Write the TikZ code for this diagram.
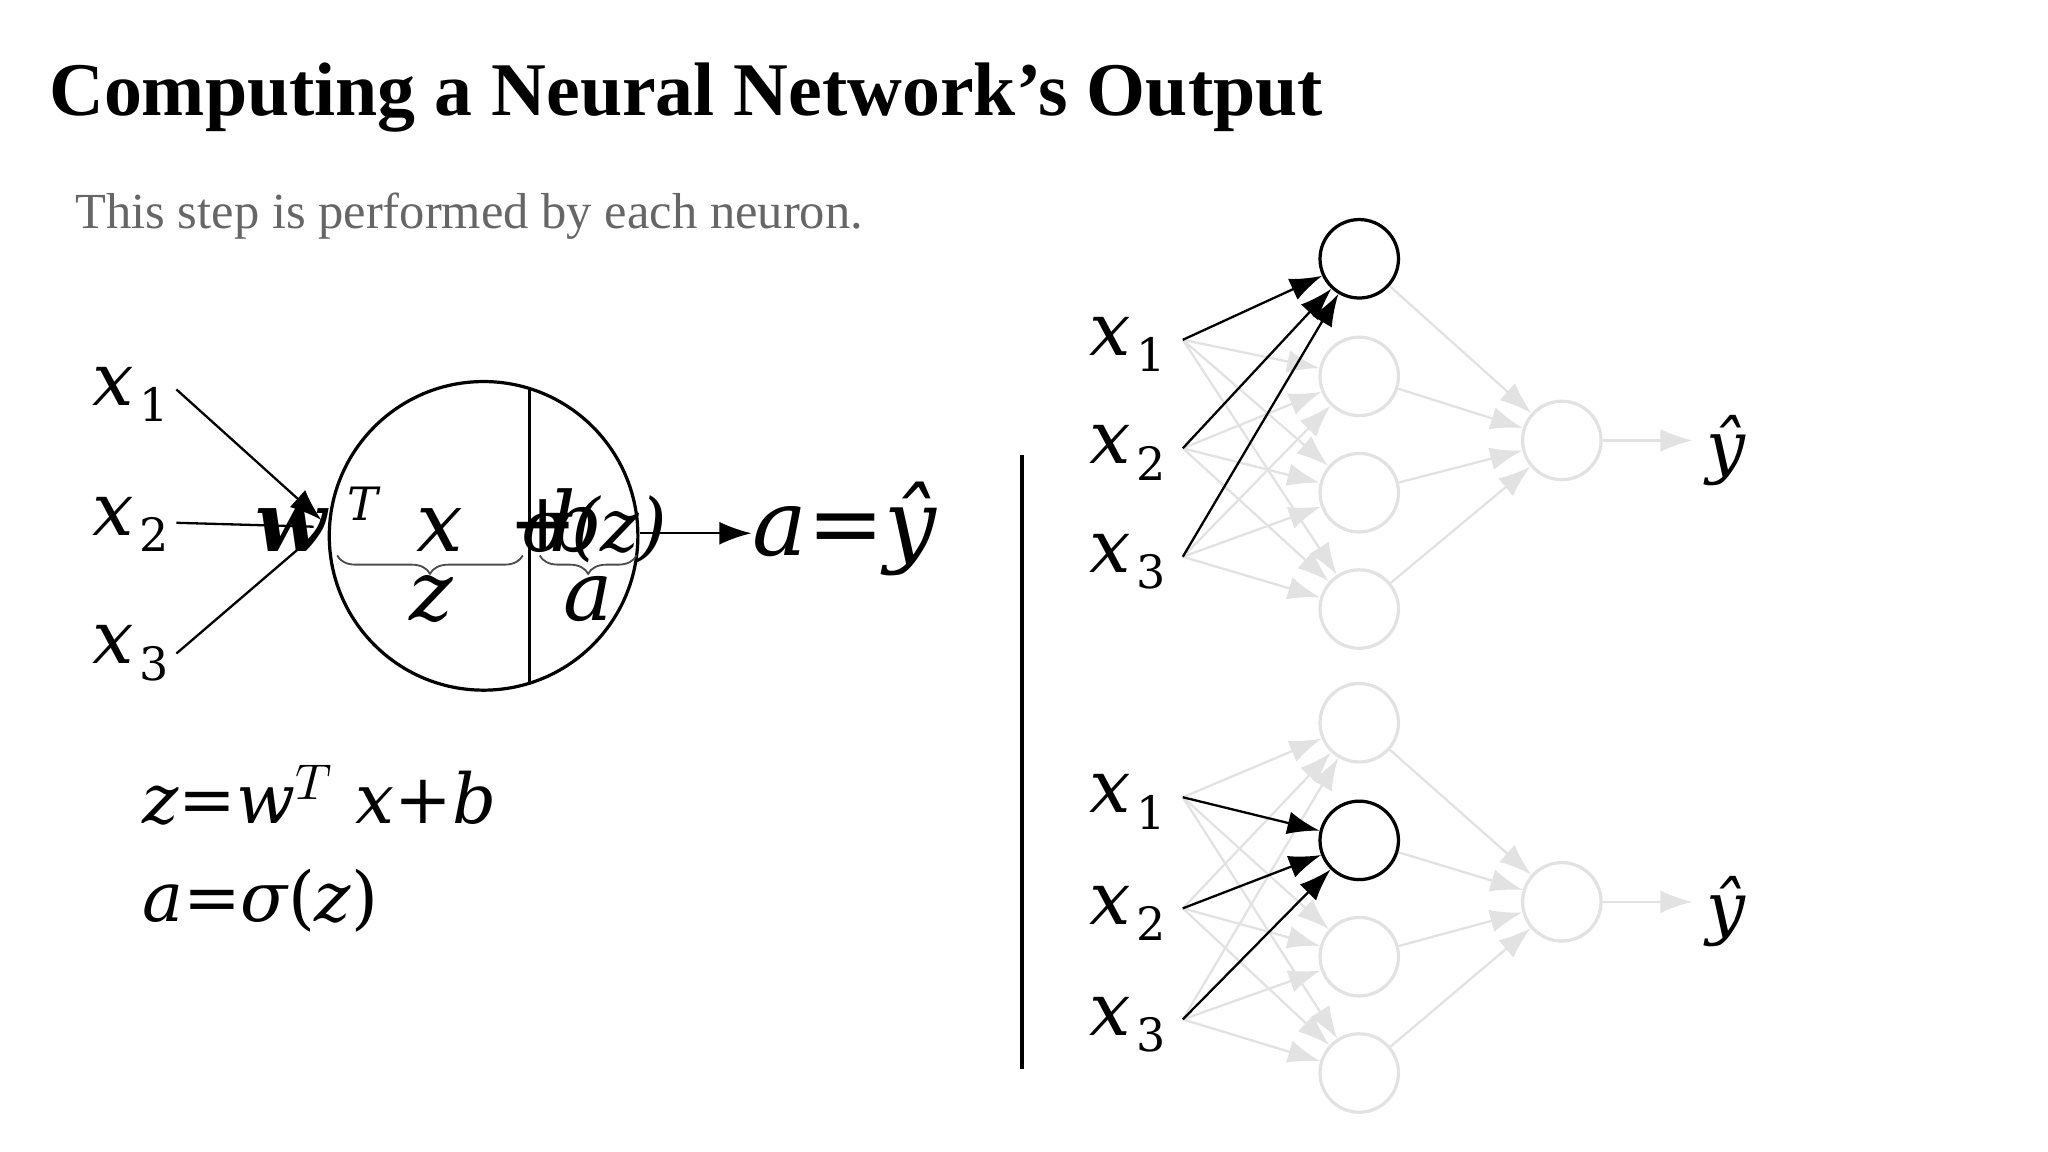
\documentclass[tikz,border=0pt]{standalone}
\usepackage{fontspec}
\setmainfont{Liberation Serif}
\newfontfamily\mth{DejaVu Serif}
\usetikzlibrary{arrows.meta,decorations.pathreplacing}
\definecolor{lg}{HTML}{E2E2E2}
\begin{document}
\begin{tikzpicture}[x=0.01cm,y=-0.01cm,
  neu/.style={circle,draw=#1,minimum size=0.6cm,inner sep=0pt,line width=0.7pt},
  neu/.default=lg,
  xl/.style={anchor=base west,inner sep=0pt,font=\mth\fontsize{16}{16}\selectfont},
  gl/.style={draw=lg,line width=0.5pt,-{Latex[length=7pt,width=5pt]}},
  bl/.style={draw=black,line width=0.5pt,-{Latex[length=7pt,width=5pt]}},
  yh/.style={anchor=base west,inner sep=0pt,font=\mth\itshape\fontsize{15}{15}\selectfont}]
\useasboundingbox (0,0) rectangle (1567,881.4);
\node[anchor=base west,inner sep=0pt,font=\bfseries\fontsize{16.5}{16.5}\selectfont] (title) at (37,88) {Computing a Neural Network’s Output};
\node[anchor=base west,inner sep=0pt,text=black!60,font=\fontsize{11}{11}\selectfont] (sub) at (57,175) {This step is performed by each neuron.};
% left neuron
\newcommand{\xlab}[1]{{\itshape x}\hspace{0.08em}{\fontsize{10}{10}\selectfont\raisebox{-0.35em}{#1}}}
\node[xl] (lx1) at (70,310) {\xlab{1}};
\node[xl] (lx2) at (70,410) {\xlab{2}};
\node[xl] (lx3) at (70,508) {\xlab{3}};
\node[circle,draw,line width=0.7pt,minimum size=2.36cm,inner sep=0pt] (big) at (370,410) {};
\draw[line width=0.7pt] (405,297) -- (405,523);
\coordinate (tip) at (246,398);
\draw[bl] (135,298) -- (tip);
\draw[line width=0.5pt] (135,400) -- (240,403);
\draw[line width=0.5pt] (135,500) -- (240,410);
\node[anchor=base west,inner sep=0pt,font=\mth\itshape\bfseries\fontsize{18}{18}\selectfont] (w) at (195,422) {w};
\node[anchor=base west,inner sep=0pt,font=\mth\itshape\fontsize{10}{10}\selectfont] (T) at (265,398) {T};
\node[anchor=base west,inner sep=0pt,font=\mth\itshape\fontsize{18}{18}\selectfont] (xx) at (318,422) {x};
\node[anchor=base west,inner sep=0pt,font=\mth\fontsize{18}{18}\selectfont] (pl) at (388,422) {+};
\node[anchor=base west,inner sep=0pt,font=\mth\itshape\fontsize{18}{18}\selectfont] (bb) at (420,422) {b};
\node[anchor=base west,inner sep=0pt,font=\mth\itshape\fontsize{16}{16}\selectfont] (sg) at (398,422) {σ(z)};
\draw[decorate,decoration={brace,mirror,amplitude=4pt},draw=black!70,line width=0.4pt] (258,425) -- (400,425);
\draw[decorate,decoration={brace,mirror,amplitude=4pt},draw=black!70,line width=0.4pt] (413,425) -- (487,425);
\node[anchor=base,inner sep=0pt,font=\mth\itshape\fontsize{18}{18}\selectfont] (zl) at (330,475) {z};
\node[anchor=base,inner sep=0pt,font=\mth\itshape\fontsize{18}{18}\selectfont] (al) at (450,475) {a};
\node[anchor=base west,inner sep=0pt,font=\mth\itshape\fontsize{20}{20}\selectfont] (ay) at (575,425) {a{\upshape =}ŷ};
\draw[bl] (big.east) ++(0,-2) -- (ay.west|-0,408);
\node[anchor=base west,inner sep=0pt,font=\mth\itshape\fontsize{15}{15}\selectfont] (e1) at (108,630) {z{\upshape =}w$^{\scriptstyle T}$ x{\upshape +}b};
\node[anchor=base west,inner sep=0pt,font=\mth\itshape\fontsize{15}{15}\selectfont] (e2) at (108,705) {a{\upshape =}σ{\upshape (}z{\upshape )}};
\draw[line width=0.7pt] (782,348) -- (782,818);
% top network
\foreach \i/\y in {1/198,2/288,3/377,4/466}{\node[neu] (h\i) at (1040,\y) {};}
\node[neu] (o) at (1195,337) {};
\node[yh] (yo) at (1305,360) {ŷ};
\foreach \i/\y in {1/272,2/355,3/438}{\node[xl] (tx\i) at (833,\y) {\xlab{\i}}; \coordinate (ti\i) at (905,\y-12);}
\foreach \i in {1,2,3}{\foreach \j in {2,3,4}{\draw[gl] (ti\i) -- (h\j);}}
\foreach \j in {1,2,3,4}{\draw[gl] (h\j) -- (o);}
\draw[gl] (o) -- (1295,337);
\node[neu=black] at (h1) {};
\foreach \i in {1,2,3}{\draw[bl] (ti\i) -- (h1);}
% bottom network
\foreach \i/\y in {1/553,2/643,3/732,4/821}{\node[neu] (k\i) at (1040,\y) {};}
\node[neu] (p) at (1195,690) {};
\node[yh] (yp) at (1305,713) {ŷ};
\foreach \i/\y in {1/622,2/707,3/792}{\node[xl] (bx\i) at (833,\y) {\xlab{\i}}; \coordinate (bi\i) at (905,\y-12);}
\foreach \i in {1,2,3}{\foreach \j in {1,3,4}{\draw[gl] (bi\i) -- (k\j);}}
\foreach \j in {1,2,3,4}{\draw[gl] (k\j) -- (p);}
\draw[gl] (p) -- (1295,690);
\node[neu=black] at (k2) {};
\foreach \i in {1,2,3}{\draw[bl] (bi\i) -- (k2);}
\end{tikzpicture}
\end{document}
